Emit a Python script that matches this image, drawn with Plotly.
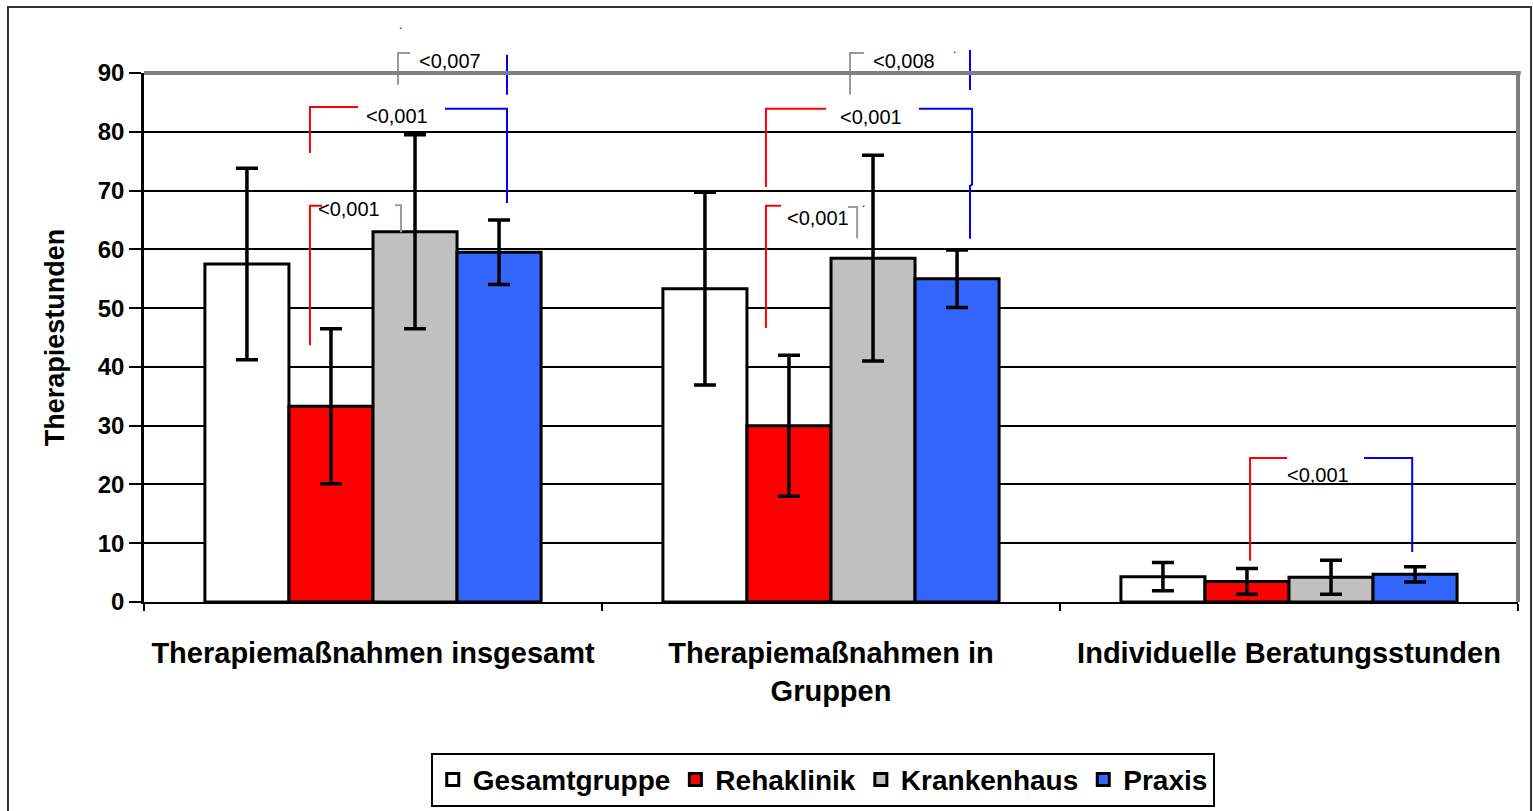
import plotly.graph_objects as go

# Categories and group data (therapy hours, mean ± SD)
categories = ["Therapiemaßnahmen insgesamt", "Therapiemaßnahmen in<br>Gruppen", "Individuelle Beratungsstunden"]
series_names = ["Gesamtgruppe", "Rehaklinik", "Krankenhaus", "Praxis"]
series_colors = ["#FFFFFF", "#FF0000", "#C0C0C0", "#3366FF"]

gesamt_mean = [57.5, 53.3, 4.3]
gesamt_sd = [16.3, 16.4, 2.4]
reha_mean = [33.3, 30.0, 3.5]
reha_sd = [13.2, 12.0, 2.2]
kh_mean = [63.0, 58.5, 4.2]
kh_sd = [16.5, 17.5, 2.9]
praxis_mean = [59.5, 55.0, 4.7]
praxis_sd = [5.5, 4.9, 1.3]

y_ticks = [0, 10, 20, 30, 40, 50, 60, 70, 80, 90]

means = [gesamt_mean, reha_mean, kh_mean, praxis_mean]
sds = [gesamt_sd, reha_sd, kh_sd, praxis_sd]

FONT = "Liberation Sans, Arial"

fig = go.Figure()
for name, color, m, s in zip(series_names, series_colors, means, sds):
    fig.add_trace(go.Bar(
        x=categories, y=m, name=name,
        marker=dict(color=color, line=dict(color="black", width=3)),
        error_y=dict(type="data", array=s, visible=True, color="black",
                     thickness=3.5, width=11),
    ))

# Significance brackets: (colour, [(x, y), ...]) with x as category index, y in data units
brackets = [
    ("#999999", [(0.081, 93.4), (0.0546, 93.4), (0.0546, 88.0)]),
    ("#0000FF", [(0.2926, 93.1), (0.2926, 86.3)]),
    ("#FF0000", [(-0.1376, 76.4), (-0.1376, 84.2), (-0.0328, 84.2)]),
    ("#0000FF", [(0.157, 83.9), (0.2926, 83.9), (0.2926, 67.9)]),
    ("#FF0000", [(-0.1376, 43.7), (-0.1376, 67.4), (-0.111, 67.4)]),
    ("#999999", [(0.048, 67.5), (0.061, 67.5), (0.061, 62.9)]),
    ("#999999", [(1.072, 93.4), (1.0415, 93.4), (1.0415, 86.3)]),
    ("#0000FF", [(1.3035, 93.9), (1.3035, 87.1)]),
    ("#FF0000", [(0.858, 70.6), (0.858, 83.9), (0.989, 83.9)]),
    ("#0000FF", [(1.192, 83.9), (1.308, 83.9), (1.308, 71.0), (1.3035, 70.8), (1.3035, 61.8)]),
    ("#FF0000", [(0.858, 46.6), (0.858, 67.4), (0.891, 67.4)]),
    ("#999999", [(1.037, 67.2), (1.057, 67.2), (1.057, 61.9)]),
    ("#FF0000", [(1.915, 7.0), (1.915, 24.5), (1.996, 24.5)]),
    ("#0000FF", [(2.164, 24.5), (2.269, 24.5), (2.269, 8.5)]),
]
p_labels = [
    ("<0,007", 0.168, 92.0),
    ("<0,001", 0.0524, 82.7),
    ("<0,001", -0.052, 66.9),
    ("<0,008", 1.159, 92.0),
    ("<0,001", 1.087, 82.5),
    ("<0,001", 0.972, 65.3),
    ("<0,001", 2.063, 21.6),
]

y_max = 90.0
shapes = []
for color, pts in brackets:
    path = "M " + " L ".join(f"{x},{y / y_max}" for x, y in pts)
    shapes.append(dict(type="path", path=path, xref="x", yref="paper",
                       line=dict(color=color, width=2)))

# grey plot-area frame (top and right), outer chart border
shapes.append(dict(type="line", xref="paper", yref="paper", x0=0, x1=1.002, y0=1, y1=1,
                   line=dict(color="#808080", width=4)))
shapes.append(dict(type="line", xref="paper", yref="paper", x0=1, x1=1, y0=0, y1=1,
                   line=dict(color="#808080", width=4)))
shapes.append(dict(type="rect", xref="paper", yref="paper", x0=-0.099, x1=1.0095,
                   y0=-0.45, y1=1.1248, line=dict(color="#333333", width=2)))

# p-value labels placed in paper units vertically so that labels above the axis range still show
annotations = [dict(text=t, x=x, y=y / y_max, xref="x", yref="paper", showarrow=False,
                    xanchor="center", yanchor="middle",
                    font=dict(family=FONT, size=20, color="black"))
               for t, x, y in p_labels]
for x, y in [(0.059, 97.6), (1.2686, 93.6), (1.072, 67.4)]:
    annotations.append(dict(text=".", x=x, y=y / y_max, xref="x", yref="paper", showarrow=False,
                            xanchor="center", yanchor="middle",
                            font=dict(size=12, color="black"), yshift=3))

fig.update_layout(
    width=1533, height=811,
    margin=dict(l=144, r=15, t=73, b=209, autoexpand=False),
    paper_bgcolor="white", plot_bgcolor="white",
    barmode="group", bargap=0.266, bargroupgap=0,
    font=dict(family=FONT, color="black"),
    showlegend=True,
    legend=dict(orientation="h", x=0.494, xanchor="center", y=-0.285, yanchor="top",
                bordercolor="black", borderwidth=2, bgcolor="white",
                font=dict(size=28, family=FONT, weight="bold"),
                traceorder="normal", itemwidth=30),
    shapes=shapes,
    annotations=annotations,
)
fig.update_xaxes(
    type="category", showline=True, linecolor="black", linewidth=2,
    ticks="outside", tickson="boundaries", ticklen=7, tickcolor="black", tickwidth=2,
    tickfont=dict(size=29, family=FONT, weight="bold"),
    ticklabelstandoff=24, showgrid=False, range=[-0.5, 2.5],
)
fig.update_yaxes(
    range=[0, y_max], tickvals=y_ticks, showline=True, linecolor="black", linewidth=2.5,
    ticks="outside", ticklen=12, tickcolor="black", tickwidth=2,
    tickfont=dict(size=24, family=FONT, weight="bold"),
    showgrid=True, gridcolor="black", gridwidth=2, zeroline=False,
    title=dict(text="Therapiestunden", font=dict(size=27, weight="bold"), standoff=26),
)

fig.write_html("out.html")
